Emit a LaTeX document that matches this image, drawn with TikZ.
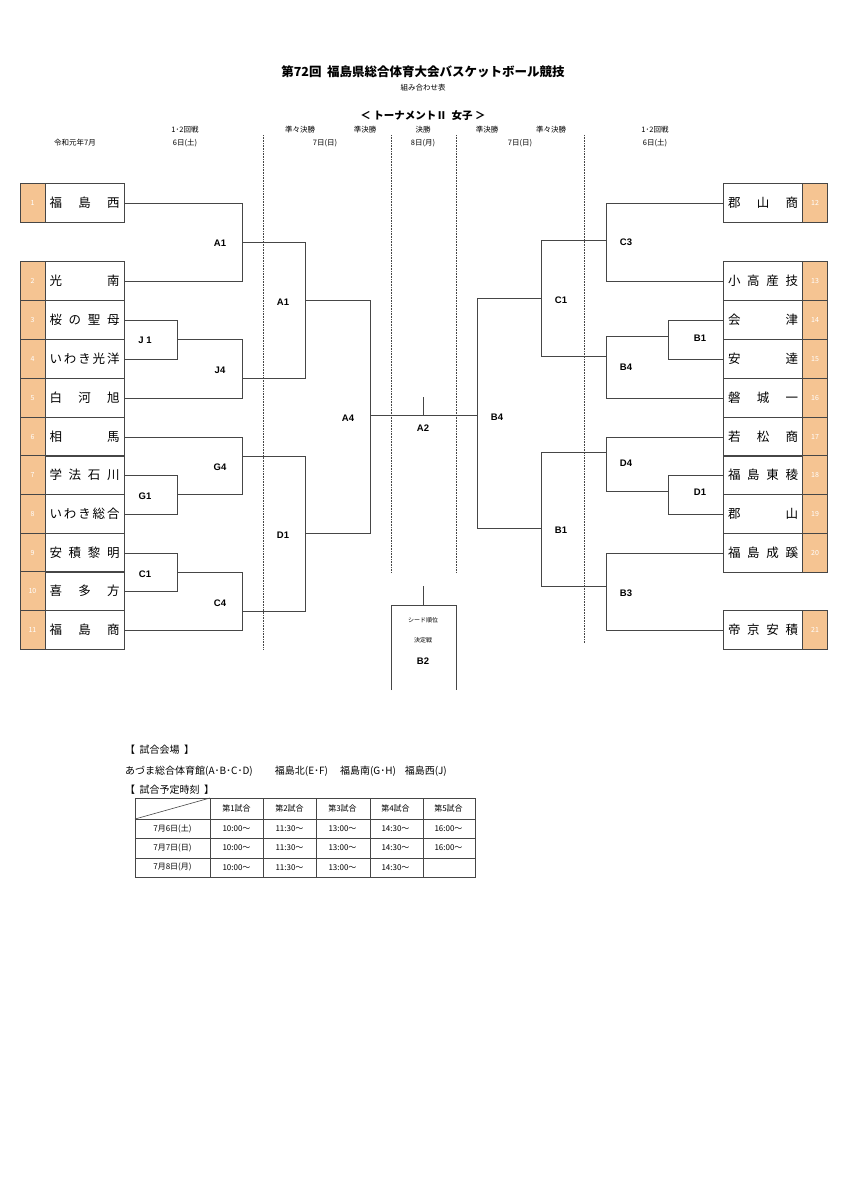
\documentclass[tikz,border=0pt]{standalone}
\usepackage{fontspec}
\setmainfont{Noto Sans CJK JP}
\newfontfamily\lab{Liberation Sans}
\definecolor{org}{RGB}{245,196,146}
\definecolor{ln}{RGB}{70,70,70}
\tikzset{
  numc/.style={draw=ln,fill=org,minimum width=25pt,minimum height=38.8pt,inner sep=0,text=white,font=\fontsize{7}{8}\selectfont},
  namec/.style={draw=ln,minimum width=79pt,minimum height=38.8pt,inner sep=0,font=\fontsize{12.5}{14}\selectfont},
  br/.style={draw=ln,line width=0.8pt},
  lbl/.style={font=\lab\bfseries\fontsize{9.5}{11}\selectfont,inner sep=0},
  sm/.style={font=\fontsize{7.5}{9}\selectfont,inner sep=0},
  dots/.style={draw=ln,densely dotted,line width=0.6pt},
  tb/.style={font=\fontsize{8}{9}\selectfont,inner sep=0}
}
\newcommand{\nm}[1]{\makebox[70pt][s]{#1}}
\newcommand{\lteam}[3]{\node[numc] (n#1) at (32.5,#3) {#1};\node[namec] (t#1) at (84.5,#3) {\nm{#2}};}
\newcommand{\rteam}[3]{\node[numc] (n#1) at (815,#3) {#1};\node[namec] (t#1) at (763,#3) {\nm{#2}};}
\begin{document}
\begin{tikzpicture}[x=1pt,y=-1pt]
\useasboundingbox (0,0) rectangle (847,1200);
% headings
\node[font=\bfseries\fontsize{12.5}{14}\selectfont] (title) at (423,72) {第72回\ \ 福島県総合体育大会バスケットボール競技};
\node[sm] (sub) at (423,88) {組み合わせ表};
\node[font=\bfseries\fontsize{10.5}{12}\selectfont] (tt) at (423,116) {＜ トーナメントⅡ\ \ 女子 ＞};
\node[sm] (h1) at (185,130) {1･2回戦};
\node[sm] (h2) at (300,130) {準々決勝};
\node[sm] (h3) at (365,130) {準決勝};
\node[sm] (h4) at (423,130) {決勝};
\node[sm] (h5) at (487,130) {準決勝};
\node[sm] (h6) at (551,130) {準々決勝};
\node[sm] (h7) at (655,130) {1･2回戦};
\node[sm] (d0) at (75,143) {令和元年7月};
\node[sm] (d1) at (185,143) {6日(土)};
\node[sm] (d2) at (325,143) {7日(日)};
\node[sm] (d3) at (423,143) {8日(月)};
\node[sm] (d4) at (520,143) {7日(日)};
\node[sm] (d5) at (655,143) {6日(土)};
% dotted
\draw[dots] (263,135) -- (263,650);
\draw[dots] (391,135) -- (391,572);
\draw[dots] (456,135) -- (456,572);
\draw[dots] (584,135) -- (584,643);
% left teams
\lteam{1}{福\hfil 島\hfil 西}{203}
\lteam{2}{光\hfil 南}{281}
\lteam{3}{桜\hfil の\hfil 聖\hfil 母}{320}
\lteam{4}{い\hfil わ\hfil き\hfil 光\hfil 洋}{359}
\lteam{5}{白\hfil 河\hfil 旭}{398}
\lteam{6}{相\hfil 馬}{437}
\lteam{7}{学\hfil 法\hfil 石\hfil 川}{475}
\lteam{8}{い\hfil わ\hfil き\hfil 総\hfil 合}{514}
\lteam{9}{安\hfil 積\hfil 黎\hfil 明}{553}
\lteam{10}{喜\hfil 多\hfil 方}{591}
\lteam{11}{福\hfil 島\hfil 商}{630}
% right teams
\rteam{12}{郡\hfil 山\hfil 商}{203}
\rteam{13}{小\hfil 高\hfil 産\hfil 技}{281}
\rteam{14}{会\hfil 津}{320}
\rteam{15}{安\hfil 達}{359}
\rteam{16}{磐\hfil 城\hfil 一}{398}
\rteam{17}{若\hfil 松\hfil 商}{437}
\rteam{18}{福\hfil 島\hfil 東\hfil 稜}{475}
\rteam{19}{郡\hfil 山}{514}
\rteam{20}{福\hfil 島\hfil 成\hfil 蹊}{553}
\rteam{21}{帝\hfil 京\hfil 安\hfil 積}{630}
% left bracket
\draw[br] (t1.east) -| (242,281) -- (t2.east);
\draw[br] (t3.east) -| (177,359) -- (t4.east);
\draw[br] (177,339) -- (242,339) |- (t5.east);
\draw[br] (242,242) -- (305,242) |- (242,378);
\draw[br] (t6.east) -| (242,494) -- (177,494);
\draw[br] (t7.east) -| (177,514) -- (t8.east);
\draw[br] (t9.east) -| (177,591) -- (t10.east);
\draw[br] (177,572) -- (242,572) |- (t11.east);
\draw[br] (242,456) -- (305,456) |- (242,611);
\draw[br] (305,300) -- (370,300) |- (305,533);
\draw[br] (370,415) -- (477,415);
\draw[br] (423,415) -- (423,397);
% right bracket
\draw[br] (t12.west) -| (606,281) -- (t13.west);
\draw[br] (t14.west) -| (668,359) -- (t15.west);
\draw[br] (668,336) -- (606,336) |- (t16.west);
\draw[br] (606,240) -- (541,240) |- (606,356);
\draw[br] (t17.west) -| (606,491) -- (668,491);
\draw[br] (t18.west) -| (668,514) -- (t19.west);
\draw[br] (t20.west) -| (606,630) -- (t21.west);
\draw[br] (606,452) -- (541,452) |- (606,586);
\draw[br] (541,298) -- (477,298) |- (541,528);
% labels
\node[lbl] (lA1) at (220,243) {A1};
\node[lbl] (lJ1) at (145,340) {J 1};
\node[lbl] (lJ4) at (220,370) {J4};
\node[lbl] (lA1b) at (283,302) {A1};
\node[lbl] (lG4) at (220,467) {G4};
\node[lbl] (lG1) at (145,496) {G1};
\node[lbl] (lC1) at (145,574) {C1};
\node[lbl] (lC4) at (220,603) {C4};
\node[lbl] (lD1) at (283,535) {D1};
\node[lbl] (lA4) at (348,418) {A4};
\node[lbl] (lA2) at (423,428) {A2};
\node[lbl] (lB4) at (497,417) {B4};
\node[lbl] (rC3) at (626,242) {C3};
\node[lbl] (rB1) at (700,338) {B1};
\node[lbl] (rB4) at (626,367) {B4};
\node[lbl] (rC1) at (561,300) {C1};
\node[lbl] (rD1) at (700,492) {D1};
\node[lbl] (rD4) at (626,463) {D4};
\node[lbl] (rB3) at (626,593) {B3};
\node[lbl] (rB1b) at (561,530) {B1};
% seed box
\draw[br] (423,586) -- (423,605);
\draw[br] (391,690) -- (391,605) -- (456,605) -- (456,690);
\node[font=\fontsize{6}{7}\selectfont] (s1) at (423,620) {シード順位};
\node[font=\fontsize{6}{7}\selectfont] (s2) at (423,640) {決定戦};
\node[lbl] (s3) at (423,661) {B2};
% venue
\node[anchor=west,font=\fontsize{10}{12}\selectfont,inner sep=0] (v1) at (125,750) {【\ \ 試合会場\ \ 】};
\node[anchor=west,font=\fontsize{10}{12}\selectfont,inner sep=0] (v2) at (125,771) {あづま総合体育館(A･B･C･D)\hspace{2.2em}福島北(E･F)\hspace{1.2em}福島南(G･H)\hspace{0.9em}福島西(J)};
\node[anchor=west,font=\fontsize{10}{12}\selectfont,inner sep=0] (v3) at (125,790) {【\ \ 試合予定時刻\ \ 】};
% table
\draw[ln,line width=0.6pt] (135,798) rectangle (475,877);
\foreach \x in {210,263,316,370,423} \draw[ln,line width=0.6pt] (\x,798) -- (\x,877);
\foreach \y in {819,838,858} \draw[ln,line width=0.6pt] (135,\y) -- (475,\y);
\draw[ln,line width=0.6pt] (135,819) -- (210,798);
\foreach \t [count=\i] in {第1試合,第2試合,第3試合,第4試合,第5試合}
  \node[tb] at ({210+(\i-0.5)*53},808.5) {\t};
\node[tb] at (172.5,828.5) {7月6日(土)};
\node[tb] at (172.5,848) {7月7日(日)};
\node[tb] at (172.5,867.5) {7月8日(月)};
\foreach \t [count=\i] in {10:00～,11:30～,13:00～,14:30～,16:00～} {
  \node[tb] at ({210+(\i-0.5)*53},828.5) {\t};
  \node[tb] at ({210+(\i-0.5)*53},848) {\t};
}
\foreach \t [count=\i] in {10:00～,11:30～,13:00～,14:30～}
  \node[tb] at ({210+(\i-0.5)*53},867.5) {\t};
\end{tikzpicture}
\end{document}
